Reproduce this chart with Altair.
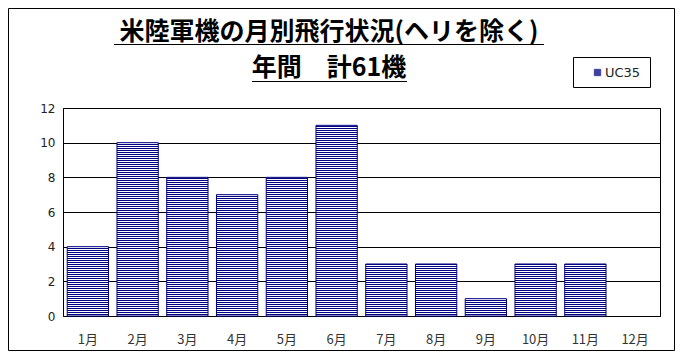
import altair as alt
import pandas as pd

# ---- data ----
months = ["1月", "2月", "3月", "4月", "5月", "6月", "7月", "8月", "9月", "10月", "11月", "12月"]
flights = [4, 10, 8, 7, 8, 11, 3, 3, 1, 3, 3, 0]
series_name = "UC35"
title_lines = ["米陸軍機の月別飛行状況(ヘリを除く)", "年間　計61機"]
y_ticks = [0, 2, 4, 6, 8, 10, 12]

W, H = 597, 208
Y_MAX = 12
NAVY = "#000080"
px_per_unit = H / Y_MAX

bars_df = pd.DataFrame({"month": months, "count": flights, "series": series_name})

# horizontal hatch stripes inside each bar (derived from the values)
rows = []
for m, v in zip(months, flights):
    n = int(v * px_per_unit)
    for k in range(1, n, 2):
        rows.append({"month": m, "y0": k / px_per_unit, "y1": (k + 1) / px_per_unit,
                     "series": series_name})
stripes_df = pd.DataFrame(rows)

x_scale = alt.Scale(domain=months, paddingInner=0.17, paddingOuter=0.085)
x_axis = alt.Axis(labelAngle=0, labelFont="Noto Sans CJK JP", labelFontSize=13,
                  labelColor="#333", labelPadding=17, ticks=False, domain=False,
                  grid=False)
y_scale = alt.Scale(domain=[0, Y_MAX], nice=False)
y_axis = alt.Axis(values=y_ticks, grid=True, gridColor="black", gridWidth=1,
                  ticks=False, domain=False, labelFont="DejaVu Sans", labelOverlap=False,
                  labelFontSize=12, labelColor="#222", labelPadding=8)

base_bars = alt.Chart(bars_df).transform_filter("datum.count > 0").mark_bar(
    fill="white", stroke=NAVY, strokeWidth=1
).encode(
    x=alt.X("month:N", sort=months, title=None, scale=x_scale, axis=x_axis),
    y=alt.Y("count:Q", scale=y_scale, title=None, axis=y_axis),
)

stripes = alt.Chart(stripes_df).mark_bar(strokeWidth=0).encode(
    x=alt.X("month:N", sort=months, title=None, scale=x_scale, axis=x_axis),
    y=alt.Y("y0:Q", scale=y_scale, title=None, axis=y_axis),
    y2="y1:Q",
    color=alt.Color("series:N", scale=alt.Scale(domain=[series_name], range=[NAVY]),
                    legend=alt.Legend(title=None, orient="none", legendX=528, legendY=-42,
                                      symbolType="square", symbolSize=40, symbolOpacity=0.75,
                                      symbolStrokeColor=NAVY, symbolStrokeWidth=1,
                                      labelFont="DejaVu Sans", labelFontSize=13,
                                      labelColor="#222", padding=0, labelOffset=1)),
)

one = pd.DataFrame({"a": [0]})

title1 = alt.Chart(one).mark_text(
    text=title_lines[0], font="Noto Sans CJK JP", fontSize=25, fontWeight="bold",
    align="center", baseline="alphabetic", color="black"
).encode(x=alt.value(266), y=alt.value(-68))

title2 = alt.Chart(one).mark_text(
    text=title_lines[1], font="Noto Sans CJK JP", fontSize=25, fontWeight="bold",
    align="center", baseline="alphabetic", color="black"
).encode(x=alt.value(266), y=alt.value(-32))

underline1 = alt.Chart(one).mark_rule(color="black", strokeWidth=1).encode(
    x=alt.value(51), x2=alt.value(481), y=alt.value(-63.5))
underline2 = alt.Chart(one).mark_rule(color="black", strokeWidth=1).encode(
    x=alt.value(189), x2=alt.value(344), y=alt.value(-26.5))

legend_box = alt.Chart(one).mark_rect(fillOpacity=0, stroke="black", strokeWidth=1).encode(
    x=alt.value(510.5), x2=alt.value(587.5), y=alt.value(-50.5), y2=alt.value(-20.5))

outer_box = alt.Chart(one).mark_rect(fillOpacity=0, stroke="black", strokeWidth=1).encode(
    x=alt.value(-54.5), x2=alt.value(611.5), y=alt.value(-99.5), y2=alt.value(242.5))

chart = alt.layer(
    base_bars, stripes, title1, title2, underline1, underline2, legend_box, outer_box
).properties(
    width=W, height=H,
    padding={"left": 55, "top": 100, "right": 15, "bottom": 35},
    autosize=alt.AutoSizeParams(type="none"),
    background="white",
).configure_view(stroke="black", strokeWidth=1)

chart.save("out.html", embed_options={"renderer": "svg", "actions": False})
